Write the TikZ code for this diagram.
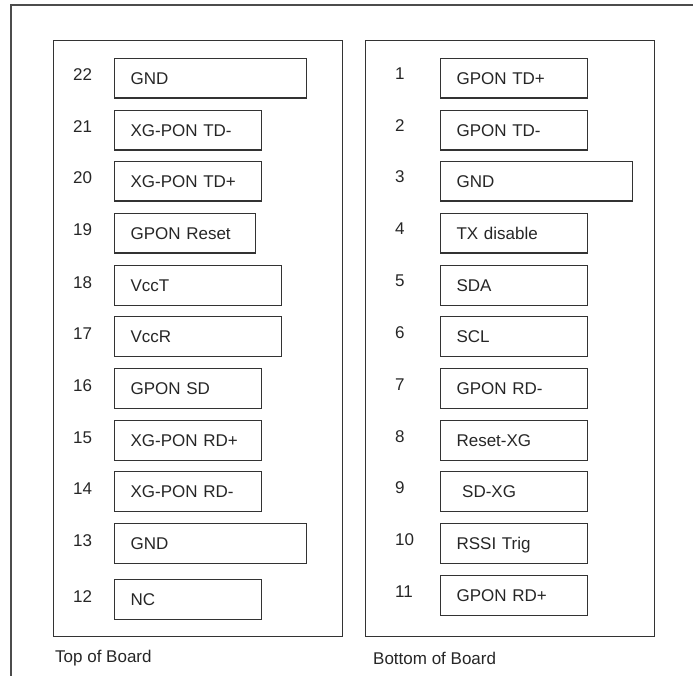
\documentclass[tikz,border=0pt]{standalone}
\usepackage{fontspec}
\setmainfont{Liberation Sans}
\begin{document}
\begin{tikzpicture}[x=1pt,y=-1pt,
  every node/.style={font=\fontsize{17}{20}\selectfont, text=black!85},
  frame/.style={draw=black!70, line width=1.1pt},
  panel/.style={draw=black!80, line width=1.1pt, minimum width=289pt, minimum height=596pt, inner sep=0pt, anchor=north west},
  pinbox/.style={draw=black!80, line width=1.1pt, minimum height=39.5pt, inner xsep=16pt, inner ysep=0pt, text height=12pt, text depth=0pt, align=left, anchor=north west},
  pinnum/.style={anchor=base west, inner sep=0pt},
  caption/.style={anchor=base west, inner sep=0pt}]
\useasboundingbox (0,0) rectangle (693,676);
\draw[frame] (11,676) -- (11,5) -- (693,5);
\node[panel] (top) at (53,40) {};
\node[panel] (bottom) at (365,40) {};
% left column
\foreach \n/\y/\r/\t in {22/58/306/GND, 21/110/261/XG-PON TD-, 20/161/261/XG-PON TD+, 19/213/255/GPON Reset, 18/265/281/VccT, 17/316/281/VccR, 16/368/261/GPON SD, 15/420/261/XG-PON RD+, 14/471/261/XG-PON RD-, 13/523/306/GND, 12/579/261/NC}{
  \pgfmathsetmacro{\w}{\r-114-32}
  \node[pinbox, text width=\w pt] (b\n) at (114,\y) {\t};
  \node[pinnum] (n\n) at (73,\y+23) {\n};
}
% right column
\foreach \n/\y/\r/\t in {1/58/587/GPON TD+, 2/110/587/GPON TD-, 3/161/632/GND, 4/213/587/TX disable, 5/265/587/SDA, 6/316/587/SCL, 7/368/587/GPON RD-, 8/420/587/Reset-XG, 9/471/587/\ SD-XG, 10/523/587/RSSI Trig, 11/575/587/GPON RD+}{
  \pgfmathsetmacro{\w}{\r-440-32}
  \node[pinbox, text width=\w pt] (b\n) at (440,\y) {\t};
  \node[pinnum] (n\n) at (395,\y+22) {\n};
}
\node[caption] (toplbl) at (55,662) {Top of Board};
\node[caption] (botlbl) at (373,664) {Bottom of Board};
\end{tikzpicture}
\end{document}
